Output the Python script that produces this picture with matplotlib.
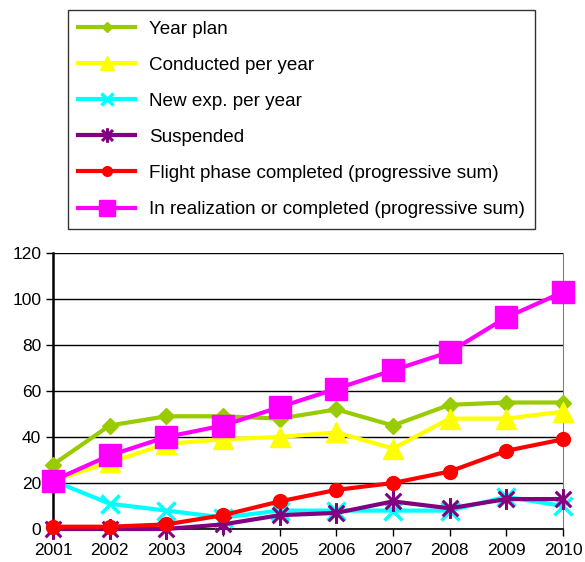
import matplotlib.pyplot as plt
from matplotlib.path import Path

plt.rcParams['font.family'] = ['Liberation Sans', 'DejaVu Sans']

years = [2001, 2002, 2003, 2004, 2005, 2006, 2007, 2008, 2009, 2010]

year_plan = [28, 45, 49, 49, 48, 52, 45, 54, 55, 55]
conducted = [21, 29, 37, 39, 40, 42, 35, 48, 48, 51]
new_exp = [21, 11, 8, 5, 8, 8, 8, 8, 14, 10]
suspended = [0, 0, 0, 2, 6, 7, 12, 9, 13, 13]
flight_done = [1, 1, 2, 6, 12, 17, 20, 25, 34, 39]
in_realization = [21, 32, 40, 45, 53, 61, 69, 77, 92, 103]

# star marker: vertical bar plus a diagonal cross
star = Path([(0, -1), (0, 1), (-0.75, -0.75), (0.75, 0.75), (-0.75, 0.75), (0.75, -0.75)],
            [Path.MOVETO, Path.LINETO, Path.MOVETO, Path.LINETO, Path.MOVETO, Path.LINETO])

# label, values, colour, marker, marker size, marker edge width
series = [
    ('Year plan', year_plan, '#99cc00', 'D', 8, 1),
    ('Conducted per year', conducted, '#ffff00', '^', 15, 1),
    ('New exp. per year', new_exp, '#00ffff', 'x', 13, 2.5),
    ('Suspended', suspended, '#800080', star, 15, 2.2),
    ('Flight phase completed (progressive sum)', flight_done, '#ff0000', 'o', 10, 1),
    ('In realization or completed (progressive sum)', in_realization, '#ff00ff', 's', 16, 1),
]

fig = plt.figure(figsize=(5.85, 5.62), dpi=100)
ax = fig.add_axes([53/585, 33/562, 510/585, 276/562])

handles = []
for i, (label, vals, col, mk, ms, mew) in enumerate(series):
    line, = ax.plot(years, vals, color=col, lw=3, marker=mk, markersize=ms,
                    markerfacecolor=col, markeredgecolor=col, markeredgewidth=mew,
                    label=label, zorder=3 + i, clip_on=False)
    handles.append(line)

ax.set_xlim(2001, 2010)
ax.set_ylim(0, 120)
ax.set_yticks(range(0, 121, 20))
ax.set_xticks(years)
ax.tick_params(axis='both', labelsize=12.5, length=5, width=1, color='black', direction='out')
ax.tick_params(axis='x', pad=5)
ax.yaxis.grid(True, color='black', lw=1)
ax.set_axisbelow(True)
ax.spines['left'].set_linewidth(1.8)
ax.spines['bottom'].set_linewidth(1.2)
ax.spines['top'].set_visible(False)
ax.spines['right'].set_color('#808080')

leg = fig.legend(handles=handles, loc='upper left', bbox_to_anchor=(68/585, 1 - 10/562),
                 borderaxespad=0, fontsize=13.6, frameon=True, fancybox=False,
                 edgecolor='black', handlelength=3.0, labelspacing=1.0,
                 markerscale=0.7, borderpad=0.55, handletextpad=0.75)
leg.get_frame().set_linewidth(1)

fig.savefig('out.png', dpi=100)
